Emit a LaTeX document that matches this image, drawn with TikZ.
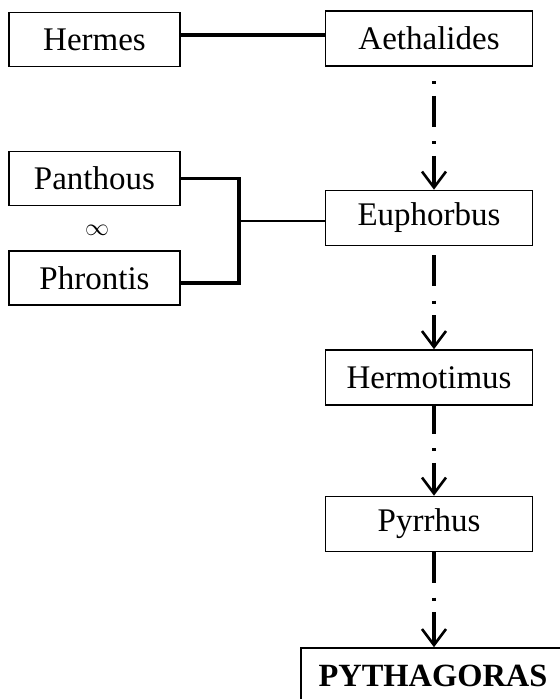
\documentclass[tikz,border=0pt]{standalone}
\usepackage{fontspec}
\setmainfont{Liberation Serif}
\usetikzlibrary{arrows.meta}
\begin{document}
\begin{tikzpicture}[x=0.5pt,y=-0.5pt,
  every node/.style={font=\fontsize{16.5pt}{19pt}\selectfont},
  lbox/.style={draw, line width=0.8pt, minimum width=85.5pt, minimum height=27pt, inner sep=0pt},
  rbox/.style={draw, line width=0.8pt, minimum width=103.5pt, minimum height=27.5pt, inner sep=0pt},
  link/.style={line width=1.8pt},
  dd/.style={line width=1.8pt, dash pattern=on 15.5pt off 7.2pt on 1.6pt off 5.7pt,
    -{Straight Barb[length=8pt,width=12pt,line width=1.3pt]}}]
\useasboundingbox (0,0) rectangle (559,699);
\node[lbox] (her) at (94.5,39.5) {Hermes};
\node[rbox] (aet) at (429,38.5) {Aethalides};
\node[lbox] (pan) at (94.5,178.5) {Panthous};
\node[font=\fontsize{11.5pt}{13pt}\selectfont] (inf) at (97,230) {$\infty$};
\node[lbox] (phr) at (94.5,278) {Phrontis};
\node[rbox] (eup) at (429,218) {Euphorbus};
\node[rbox] (hmt) at (429,377.5) {Hermotimus};
\node[rbox] (pyr) at (429,524) {Pyrrhus};
\node[draw, line width=0.8pt, minimum width=132pt, minimum height=28pt, inner sep=0pt,
  font=\fontsize{16.2pt}{19pt}\selectfont\bfseries] (pyt) at (433,676) {PYTHAGORAS};
\coordinate (col) at (434,0);
\coordinate (br) at (239,221);
% connectors
\draw[link] ([yshift=2.25pt]her.east) -- ([yshift=2.25pt]her.east -| aet.west);
\draw[link] (pan.east) -| (br);
\draw[link] ([yshift=-2.5pt]phr.east) -| (br);
\draw[line width=1.3pt] (br) -- (br -| eup.west);
\draw[dd, dash phase=15.5pt] (aet.south -| col) -- (eup.north -| col);
\draw[dd, dash phase=25.5pt] (eup.south -| col) -- (hmt.north -| col);
\draw[dd, dash phase=1.5pt] (hmt.south -| col) -- (pyr.north -| col);
\draw[dd, dash phase=0pt] (pyr.south -| col) -- (pyt.north -| col);
\end{tikzpicture}
\end{document}
